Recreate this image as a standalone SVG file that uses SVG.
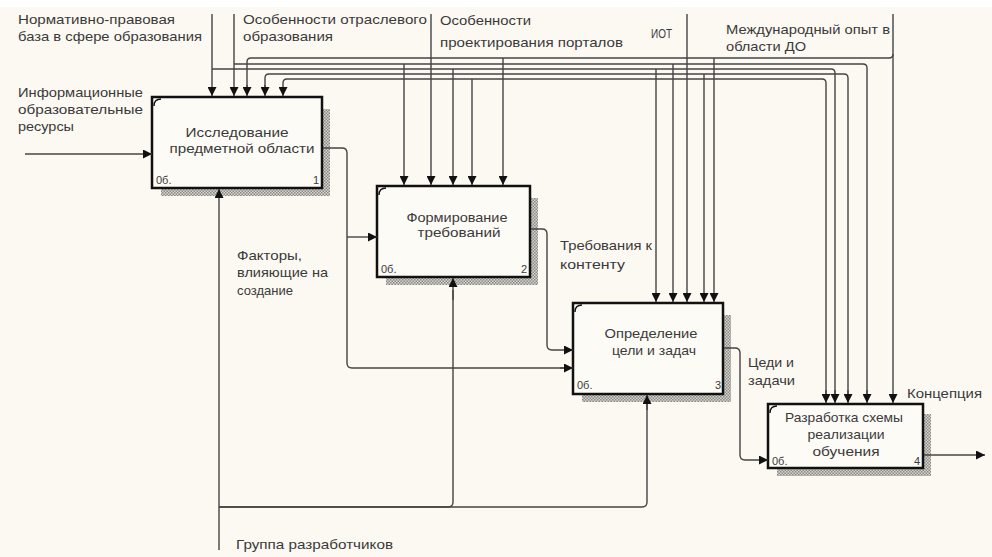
<svg xmlns="http://www.w3.org/2000/svg" width="992" height="557" viewBox="0 0 992 557">
<style>
  .t { font-family: "Liberation Sans", Arial, sans-serif; font-size: 13px; fill: #3a3a3a; }
  .c { text-anchor: middle; }
  .box { fill: #fdfbf6; stroke: #111; stroke-width: 2.5; }
  .ln { fill: none; stroke: #444; stroke-width: 1.4; }
  .ar { fill: none; stroke: #444; stroke-width: 1.4; marker-end: url(#ah); }
  .cm { fill: none; stroke: #111; stroke-width: 1.4; }
  .sh { fill: url(#hatch); }
  .nm { font-family: "Liberation Sans", Arial, sans-serif; font-size: 11px; fill: #3a3a3a; }
</style>
<defs>
  <marker id="ah" markerUnits="userSpaceOnUse" markerWidth="10" markerHeight="9" refX="9" refY="4.5" orient="auto">
    <path d="M0,0 L9,4.5 L0,9 z" fill="#111"/>
  </marker>
  <pattern id="hatch" width="3" height="3" patternUnits="userSpaceOnUse">
    <rect width="3" height="3" fill="#d8d6d0"/>
    <rect width="1.5" height="1.5" fill="#8a8884"/>
    <rect x="1.5" y="1.5" width="1.5" height="1.5" fill="#8a8884"/>
  </pattern>
</defs>
<rect width="992" height="557" fill="#fcf9f2"/>
<rect width="992" height="7" fill="#ffffff"/>

<g id="node1">
  <rect class="sh" x="322" y="109" width="8" height="87"/>
  <rect class="sh" x="161" y="188" width="169" height="8"/>
  <rect class="box" x="152" y="97" width="170" height="91"/>
  <path class="cm" d="M154,106 Q154,99 161,99"/>
  <text class="t c" x="237" y="137" textLength="103" lengthAdjust="spacingAndGlyphs">Исследование</text>
  <text class="t c" x="242" y="153" textLength="145" lengthAdjust="spacingAndGlyphs">предметной области</text>
  <text class="nm" x="156" y="184">0б.</text>
  <text class="nm" x="313" y="184">1</text>
</g>

<g id="node2">
  <rect class="sh" x="530" y="198" width="8" height="87"/>
  <rect class="sh" x="386" y="277" width="152" height="8"/>
  <rect class="box" x="377" y="186" width="153" height="91"/>
  <path class="cm" d="M379,195 Q379,188 386,188"/>
  <text class="t c" x="457" y="222" textLength="101" lengthAdjust="spacingAndGlyphs">Формирование</text>
  <text class="t c" x="459" y="237" textLength="83" lengthAdjust="spacingAndGlyphs">требований</text>
  <text class="nm" x="381" y="273">0б.</text>
  <text class="nm" x="521" y="273">2</text>
</g>

<g id="node3">
  <rect class="sh" x="723" y="315" width="8" height="87"/>
  <rect class="sh" x="582" y="394" width="149" height="8"/>
  <rect class="box" x="573" y="303" width="150" height="91"/>
  <path class="cm" d="M575,312 Q575,305 582,305"/>
  <text class="t c" x="651" y="338" textLength="93" lengthAdjust="spacingAndGlyphs">Определение</text>
  <text class="t c" x="654" y="355" textLength="84" lengthAdjust="spacingAndGlyphs">цели и задач</text>
  <text class="nm" x="577" y="389">0б.</text>
  <text class="nm" x="715" y="389">3</text>
</g>

<g id="node4">
  <rect class="sh" x="923" y="414" width="8" height="62"/>
  <rect class="sh" x="777" y="468" width="154" height="8"/>
  <rect class="box" x="768" y="404" width="155" height="64"/>
  <path class="cm" d="M770,413 Q770,406 777,406"/>
  <text class="t c" x="844" y="422" textLength="118" lengthAdjust="spacingAndGlyphs">Разработка схемы</text>
  <text class="t c" x="846" y="439" textLength="77" lengthAdjust="spacingAndGlyphs">реализации</text>
  <text class="t c" x="846" y="456" textLength="67" lengthAdjust="spacingAndGlyphs">обучения</text>
  <text class="nm" x="772" y="465">0б.</text>
  <text class="nm" x="914" y="465">4</text>
</g>

<g id="connectors">
  <!-- input to box 1 -->
  <path class="ar" d="M25,154 H152"/>
  <!-- box1 output -->
  <path class="ln" d="M323,148 H342 Q347,148 347,153 V363 Q347,368 352,368 H565"/>
  <path class="ar" d="M560,368 H573"/>
  <path class="ar" d="M347,237 H377"/>
  <!-- box2 output -->
  <path class="ar" d="M531,229 H542 Q547,229 547,234 V345 Q547,350 552,350 H573"/>
  <!-- box3 output -->
  <path class="ar" d="M724,348 H735 Q740,348 740,353 V455 Q740,460 745,460 H768"/>
  <!-- box4 output -->
  <path class="ar" d="M924,455 H985"/>

  <!-- mechanism -->
  <path class="ar" d="M219,550 V189"/>
  <path class="ln" d="M219,507 H642 Q647,507 647,502 V400"/>
  <path class="ar" d="M647,410 V395"/>
  <path class="ln" d="M219,507 H448 Q453,507 453,502 V290"/>
  <path class="ar" d="M453,300 V278"/>

  <!-- control A : x=212, bus y=69 -->
  <path class="ar" d="M212,14 V96"/>
  <path class="ln" d="M212,69 H831 Q835,69 835,73 V395"/>
  <path class="ar" d="M835,390 V403"/>
  <path class="ar" d="M453,69 V185"/>
  <path class="ar" d="M656,69 V302"/>

  <!-- control B : x=234, bus y=64 -->
  <path class="ar" d="M234,14 V96"/>
  <path class="ln" d="M234,64 H863 Q867,64 867,68 V395"/>
  <path class="ar" d="M867,390 V403"/>
  <path class="ar" d="M404,64 V185"/>
  <path class="ar" d="M673,64 V302"/>

  <!-- control C : x=431, bus y=74 -->
  <path class="ar" d="M431,14 V185"/>
  <path class="ln" d="M265,90 V78 Q265,74 269,74 H844 Q848,74 848,78 V395"/>
  <path class="ar" d="M265,85 V96"/>
  <path class="ar" d="M848,390 V403"/>
  <path class="ar" d="M704,74 V302"/>

  <!-- control D : x=687, bus y=79 -->
  <path class="ar" d="M687,14 V302"/>
  <path class="ln" d="M283,90 V83 Q283,79 287,79 H822 Q826,79 826,83 V395"/>
  <path class="ar" d="M283,88 V96"/>
  <path class="ar" d="M826,390 V403"/>
  <path class="ar" d="M472,79 V185"/>

  <!-- control E : x=893, bus y=58 -->
  <path class="ar" d="M893,14 V403"/>
  <path class="ln" d="M893,54 Q893,58 889,58 H251 Q247,58 247,62 V90"/>
  <path class="ar" d="M247,85 V96"/>
  <path class="ar" d="M503,58 V185"/>
  <path class="ar" d="M714,58 V302"/>
</g>

<g id="labels">
  <text class="t" x="18" y="24" textLength="157" lengthAdjust="spacingAndGlyphs">Нормативно-правовая</text>
  <text class="t" x="18" y="41" textLength="184" lengthAdjust="spacingAndGlyphs">база в сфере образования</text>
  <text class="t" x="243" y="24" textLength="184" lengthAdjust="spacingAndGlyphs">Особенности отраслевого</text>
  <text class="t" x="243" y="41" textLength="90" lengthAdjust="spacingAndGlyphs">образования</text>
  <text class="t" x="440" y="25" textLength="91" lengthAdjust="spacingAndGlyphs">Особенности</text>
  <text class="t" x="440" y="47" textLength="183" lengthAdjust="spacingAndGlyphs">проектирования порталов</text>
  <text class="t" x="651" y="38" textLength="21" lengthAdjust="spacingAndGlyphs">ИОТ</text>
  <text class="t" x="726" y="34" textLength="164" lengthAdjust="spacingAndGlyphs">Международный опыт в</text>
  <text class="t" x="726" y="51" textLength="80" lengthAdjust="spacingAndGlyphs">области ДО</text>
  <text class="t" x="18" y="97" textLength="125" lengthAdjust="spacingAndGlyphs">Информационные</text>
  <text class="t" x="18" y="114" textLength="125" lengthAdjust="spacingAndGlyphs">образовательные</text>
  <text class="t" x="18" y="131" textLength="56" lengthAdjust="spacingAndGlyphs">ресурсы</text>
  <text class="t" x="237" y="260" textLength="65" lengthAdjust="spacingAndGlyphs">Факторы,</text>
  <text class="t" x="237" y="277" textLength="91" lengthAdjust="spacingAndGlyphs">влияющие на</text>
  <text class="t" x="237" y="295" textLength="56" lengthAdjust="spacingAndGlyphs">создание</text>
  <text class="t" x="560" y="250" textLength="92" lengthAdjust="spacingAndGlyphs">Требования к</text>
  <text class="t" x="560" y="269" textLength="65" lengthAdjust="spacingAndGlyphs">контенту</text>
  <text class="t" x="748" y="367" textLength="46" lengthAdjust="spacingAndGlyphs">Цеди и</text>
  <text class="t" x="748" y="385" textLength="47" lengthAdjust="spacingAndGlyphs">задачи</text>
  <text class="t" x="907" y="398" textLength="75" lengthAdjust="spacingAndGlyphs">Концепция</text>
  <text class="t" x="236" y="549" textLength="157" lengthAdjust="spacingAndGlyphs">Группа разработчиков</text>
</g>
</svg>
